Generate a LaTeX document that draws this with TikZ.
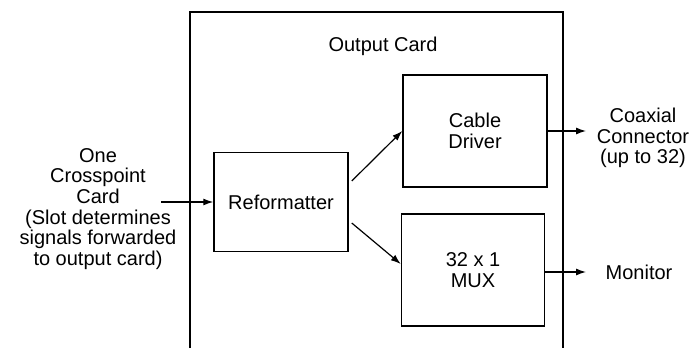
\documentclass[tikz,border=0pt]{standalone}
\usepackage{fontspec}
\setmainfont{Liberation Sans}
\usetikzlibrary{positioning, arrows.meta}

\begin{document}
\begin{tikzpicture}[
    x=1pt, y=-1pt,
    every node/.style={font=\fontsize{20}{20.7}\selectfont, align=center},
    block/.style={rectangle, draw, line width=1.5pt, minimum width=#1, minimum height=112pt},
    block/.default=144pt,
    lbl/.style={inner sep=0pt},
    arr/.style={-{Latex[length=10pt, width=7pt]}, line width=1.2pt},
]
    \useasboundingbox (0,0) rectangle (692,348);
    % output card frame, open at the bottom
    \draw[line width=1.3pt] (190,348) -- (190,12) -- (563,12) -- (563,348);
    \node[lbl] (title) at (383,46) {Output Card};

    \node[block=134pt, minimum height=99pt] (reform) at (281,202) {Reformatter};
    \node[block] (cable) at (475,131) {Cable\\Driver};
    \node[block=143pt] (mux) at (473,270) {32 x 1\\MUX};

    \node[lbl] (input) at (98,209) {One\\Crosspoint\\Card\\(Slot determines\\signals forwarded\\to output card)};
    \node[lbl] (coax) at (643,138) {Coaxial\\Connector\\(up to 32)};
    \node[lbl] (monitor) at (639,272) {Monitor};

    \coordinate (inp) at (161,202);
    \coordinate (coaxin) at (586,131);
    \coordinate (monin) at (586,272);

    \draw[arr] (inp) -- (reform.west);
    \draw[arr] ([xshift=3pt, yshift=21pt]reform.east) -- (cable.west);
    \draw[arr] ([xshift=3pt, yshift=-21pt]reform.east) -- ([yshift=6pt]mux.west);
    \draw[arr] (cable.east) -- (coaxin);
    \draw[arr] (mux.east |- monin) -- (monin);
\end{tikzpicture}
\end{document}
